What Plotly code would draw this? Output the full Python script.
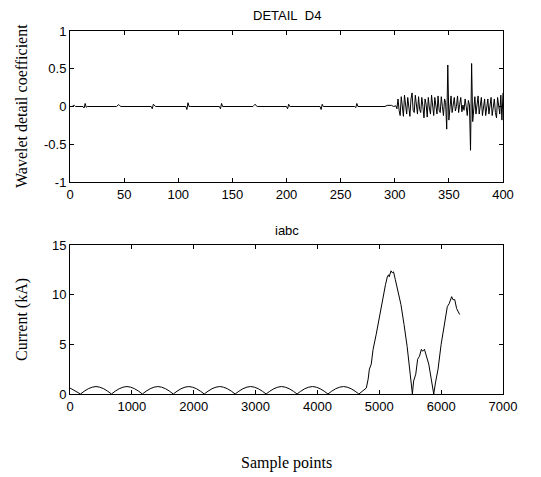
import plotly.graph_objects as go

# ---------------- Data ----------------
# DETAIL D4 (wavelet detail coefficients), sparse points for the quiet part
d4_x_quiet = [0, 2, 3, 4, 5, 7, 12, 13, 14, 15, 16, 43, 44, 45, 46, 47,
              75, 76, 77, 78, 79, 107, 108, 109, 110, 111,
              138, 139, 140, 141, 142, 169, 170, 171, 172, 173,
              200, 201, 202, 203, 204, 231, 232, 233, 234, 235,
              263, 264, 265, 266, 267, 291, 293, 297, 299]
d4_y_quiet = [0.0, 0.0, 0.015, 0.015, 0.0, 0.0, 0.0, -0.02, 0.04, -0.01, 0.0, 0.0, 0.015, 0.025, 0.01, 0.0,
              0.0, -0.03, 0.03, 0.01, 0.0, 0.0, -0.04, 0.05, 0.0, 0.0,
              0.0, -0.03, 0.04, 0.0, 0.0, 0.0, 0.015, 0.03, 0.01, 0.0,
              0.0, -0.03, 0.03, 0.0, 0.0, 0.0, -0.04, 0.03, 0.0, 0.0,
              0.0, -0.015, 0.04, 0.0, 0.0, 0.0, 0.015, 0.015, 0.0]
# noisy part, samples 300..400
d4_x_noise = list(range(300, 401))
d4_y_noise = [0.0, 0.01, -0.03, 0.1, -0.05, -0.12, 0.13, 0.02, -0.13, 0.15,
              0.0, -0.1, 0.12, -0.02, -0.13, 0.1, 0.18, -0.05, -0.08, 0.15,
              0.05, -0.1, 0.13, -0.04, -0.08, 0.12, 0.0, -0.15, 0.1, 0.03,
              -0.14, 0.12, -0.02, -0.1, 0.15, -0.03, -0.12, 0.12, 0.02, -0.1,
              0.14, -0.05, -0.08, 0.13, 0.0, -0.12, 0.1, 0.05, -0.3, 0.55,
              -0.18, 0.05, 0.14, -0.08, 0.02, 0.12, -0.06, 0.0, 0.14, -0.08,
              0.03, 0.12, -0.07, 0.02, -0.05, 0.1, 0.0, -0.12, 0.08, 0.02,
              -0.58, 0.57, -0.2, 0.02, 0.13, -0.1, 0.0, 0.14, -0.1, 0.02,
              0.12, -0.12, 0.0, 0.1, -0.12, 0.03, 0.1, -0.1, 0.0, 0.12,
              -0.12, 0.02, 0.1, -0.08, -0.15, 0.12, 0.02, -0.1, 0.15, -0.18,
              0.18]

# iabc current (kA)
i_x_pre = [0, 60, 120, 170,
           230, 295, 360, 420, 480, 545, 610, 670,
           730, 795, 860, 920, 980, 1045, 1110, 1170,
           1230, 1295, 1360, 1420, 1480, 1545, 1610, 1670,
           1730, 1795, 1860, 1920, 1980, 2045, 2110, 2170,
           2230, 2295, 2360, 2420, 2480, 2545, 2610, 2670,
           2730, 2795, 2860, 2920, 2980, 3045, 3110, 3170,
           3230, 3295, 3360, 3420, 3480, 3545, 3610, 3670,
           3730, 3795, 3860, 3920, 3980, 4045, 4110, 4170,
           4230, 4295, 4360, 4420, 4480, 4545, 4610, 4670,
           4720, 4760, 4790]
i_y_pre = [0.6, 0.38, 0.15, 0.0,
           0.28, 0.53, 0.69, 0.75, 0.69, 0.53, 0.28, 0.0,
           0.28, 0.53, 0.69, 0.75, 0.69, 0.53, 0.28, 0.0,
           0.28, 0.53, 0.69, 0.75, 0.69, 0.53, 0.28, 0.0,
           0.28, 0.53, 0.69, 0.75, 0.69, 0.53, 0.28, 0.0,
           0.28, 0.53, 0.69, 0.75, 0.69, 0.53, 0.28, 0.0,
           0.28, 0.53, 0.69, 0.75, 0.69, 0.53, 0.28, 0.0,
           0.28, 0.53, 0.69, 0.75, 0.69, 0.53, 0.28, 0.0,
           0.28, 0.53, 0.69, 0.75, 0.69, 0.53, 0.28, 0.0,
           0.28, 0.53, 0.69, 0.75, 0.69, 0.53, 0.28, 0.0,
           0.25, 0.45, 0.6]
i_x_fault = [4820, 4840, 4870, 4900, 4950, 5000, 5050, 5100, 5130, 5150, 5160, 5175, 5190,
             5210, 5230, 5260, 5300, 5350, 5400, 5450, 5500, 5535,
             5555, 5590, 5620, 5650, 5680, 5700, 5730, 5760, 5800, 5840, 5880,
             5910, 5950, 6000, 6050, 6100, 6130, 6170, 6190, 6220, 6250, 6280, 6300]
i_y_fault = [1.5, 2.5, 3.0, 4.5, 6.0, 7.8, 9.5, 11.0, 11.8, 12.0, 11.8, 12.1, 12.4,
             12.2, 12.3, 11.5, 10.5, 9.0, 7.0, 4.8, 2.0, 0.0,
             1.3, 2.0, 3.5, 3.8, 4.5, 4.3, 4.5, 3.8, 3.0, 1.5, 0.0,
             1.2, 2.5, 5.0, 7.0, 8.8, 9.1, 9.8, 9.5, 9.5, 8.6, 8.3, 8.0]

top_xticks = [0, 50, 100, 150, 200, 250, 300, 350, 400]
top_yticks = [-1, -0.5, 0, 0.5, 1]
bot_xticks = [0, 1000, 2000, 3000, 4000, 5000, 6000, 7000]
bot_yticks = [0, 5, 10, 15]

# ---------------- Figure ----------------
W, H = 541, 477
ml, mr, mt, mb = 70, 38, 31, 83
ph = H - mt - mb
top_dom = [(H - 182 - mb) / ph, 1.0]
bot_dom = [0.0, (H - 245 - mb) / ph]

fig = go.Figure()
line = dict(color="black", width=1)
fig.add_trace(go.Scatter(x=d4_x_quiet + d4_x_noise, y=d4_y_quiet + d4_y_noise,
                         mode="lines", line=line, xaxis="x", yaxis="y", showlegend=False))
fig.add_trace(go.Scatter(x=i_x_pre + i_x_fault, y=i_y_pre + i_y_fault,
                         mode="lines", line=line, xaxis="x2", yaxis="y2", showlegend=False))

tickfont = dict(family="Liberation Sans, Arial, sans-serif", size=13, color="black")
ax_common = dict(showline=True, linecolor="black", linewidth=1, mirror="ticks",
                 ticks="inside", ticklen=4, tickcolor="black", tickwidth=1,
                 showgrid=False, zeroline=False, tickfont=tickfont)

fig.update_layout(
    width=W, height=H,
    margin=dict(l=ml, r=mr, t=mt, b=mb),
    paper_bgcolor="white", plot_bgcolor="white",
    xaxis=dict(domain=[0, 1], range=[0, 400], tickvals=top_xticks, anchor="y", **ax_common),
    yaxis=dict(domain=top_dom, range=[-1, 1], tickvals=top_yticks,
               ticktext=["-1", "-0.5", "0", "0.5", "1"], anchor="x", **ax_common),
    xaxis2=dict(domain=[0, 1], range=[0, 7000], tickvals=bot_xticks, anchor="y2", **ax_common),
    yaxis2=dict(domain=bot_dom, range=[0, 15], tickvals=bot_yticks, anchor="x2", **ax_common),
)

serif = dict(family="Liberation Serif, Times New Roman, serif", size=16, color="black")
sans = dict(family="Liberation Sans, Arial, sans-serif", size=13, color="black")
cx = ml + (W - ml - mr) / 2

def ann(text, x, y, font, angle=0):
    fig.add_annotation(text=text, xref="paper", yref="paper",
                       x=(x - ml) / (W - ml - mr), y=(H - mb - y) / ph,
                       showarrow=False, font=font, textangle=angle,
                       xanchor="center", yanchor="middle")

ann("DETAIL&nbsp;&nbsp;D4", cx, 15, sans)
ann("iabc", cx, 230, sans)
ann("Sample points", cx, 463, serif)
ann("Wavelet detail coefficient", 22, 106, serif, -90)
ann("Current (kA)", 22, 320, serif, -90)

fig.write_html("out.html",
               config={"displayModeBar": False},
               post_script="document.body.style.margin='0px';document.body.style.overflow='hidden';")
